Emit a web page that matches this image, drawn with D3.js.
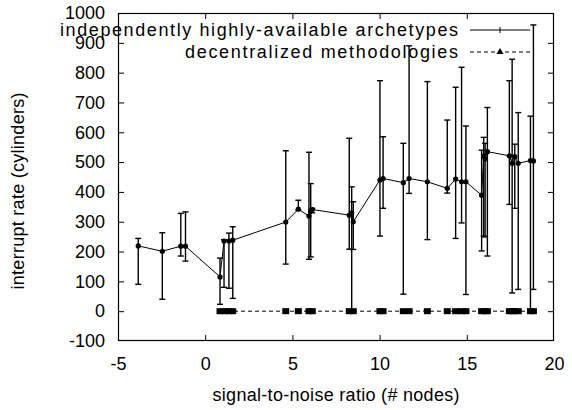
<!DOCTYPE html>
<html>
<head>
<meta charset="utf-8">
<script src="https://cdn.jsdelivr.net/npm/d3@7"></script>
<style>
  html, body { margin: 0; padding: 0; background: #fff; }
  text { font-family: "Liberation Sans", Arial, Helvetica, sans-serif; fill: #000; }
</style>
</head>
<body>
<svg id="chart" width="572" height="410"></svg>
<script>
// ---- data ----
const seriesNames = ["independently highly-available archetypes", "decentralized methodologies"];
const xTicks = [-5, 0, 5, 10, 15, 20];
const yTicks = [-100, 0, 100, 200, 300, 400, 500, 600, 700, 800, 900, 1000];
const xLabel = "signal-to-noise ratio (# nodes)";
const yLabel = "interrupt rate (cylinders)";

// series 1: x, value, low, high
const s1x   = [-3.84, -2.46, -1.40, -1.13, 0.85, 1.08, 1.36, 1.58, 4.62, 5.34, 5.95, 6.05, 6.14, 8.26, 8.40, 8.49, 10.02, 10.20, 11.36, 11.69, 12.74, 13.88, 14.36, 14.70, 14.95, 15.85, 15.97, 16.05, 16.18, 17.44, 17.60, 17.75, 17.95, 18.65, 18.82];
const s1y   = [219, 201, 218, 218, 115, 235, 235, 238, 299, 342, 319, 335, 341, 322, 330, 300, 440, 445, 431, 445, 434, 412, 443, 434, 434, 389, 520, 510, 535, 521, 496, 518, 496, 505, 504];
const s1lo  = [90, 40, 185, 168, 23, 80, 77, 43, 158, 339, 174, 182, 330, 208, 0, 207, 252, 345, 57, 395, 240, 396, 244, 296, 56, 202, 252, 249, 185, 358, 61, 345, 73, 5, 73];
const s1hi  = [244, 263, 328, 333, 178, 240, 262, 283, 538, 372, 533, 428, 345, 580, 417, 367, 773, 585, 563, 890, 770, 641, 751, 818, 621, 540, 583, 563, 683, 773, 845, 560, 666, 654, 960];

// series 2: x, value (all near zero)
const s2x = [0.85, 1.08, 1.36, 1.58, 4.62, 5.34, 5.95, 6.14, 8.26, 8.49, 10.02, 10.20, 11.36, 11.69, 12.74, 13.88, 14.36, 14.70, 14.95, 15.85, 16.05, 16.18, 17.44, 17.60, 17.75, 17.95, 18.65, 18.82];
const s2y = s2x.map(() => 0);

// ---- layout ----
const svg = d3.select("#chart");
const L = 118, R = 554, T = 13, B = 341;
const x = d3.scaleLinear().domain([-5, 20]).range([L, R]);
const y = d3.scaleLinear().domain([-100, 1000]).range([B, T]);
const FS = 18;

// frame
svg.append("rect").attr("x", L + 0.5).attr("y", T + 0.5)
  .attr("width", R - L - 1).attr("height", B - T - 1)
  .attr("fill", "none").attr("stroke", "#000").attr("stroke-width", 1.2);

// axes with inward ticks, labels
const xAxis = d3.axisBottom(x).tickValues(xTicks).tickSize(-6).tickPadding(16).tickFormat(d3.format("d"));
const gx = svg.append("g").attr("transform", `translate(0,${B})`).call(xAxis);
const xAxisTop = d3.axisTop(x).tickValues(xTicks).tickSize(-6).tickFormat("");
const gxt = svg.append("g").attr("transform", `translate(0,${T})`).call(xAxisTop);
const yAxis = d3.axisLeft(y).tickValues(yTicks).tickSize(-6).tickPadding(13);
const gy = svg.append("g").attr("transform", `translate(${L},0)`).call(yAxis);
const yAxisR = d3.axisRight(y).tickValues(yTicks).tickSize(-6).tickFormat("");
const gyr = svg.append("g").attr("transform", `translate(${R},0)`).call(yAxisR);
[gx, gxt, gy, gyr].forEach(g => {
  g.select(".domain").remove();
  g.selectAll("line").attr("stroke", "#000");
  g.selectAll("text").attr("font-size", FS).attr("font-family", "Liberation Sans, Arial, sans-serif").attr("fill", "#000");
});
// hide end ticks that coincide with frame edges
gx.selectAll(".tick line").filter(d => d === -5 || d === 20).remove();
gxt.selectAll(".tick line").filter(d => d === -5 || d === 20).remove();
gy.selectAll(".tick line").filter(d => d === -100 || d === 1000).remove();
gyr.selectAll(".tick line").filter(d => d === -100 || d === 1000).remove();
gy.selectAll("text").text(d => (d < 0 ? "-" + Math.abs(d) : String(d)));
gx.selectAll("text").text(d => (d < 0 ? "-" + Math.abs(d) : String(d)));

// axis titles
svg.append("text").attr("x", (L + R) / 2).attr("y", 401).attr("text-anchor", "middle")
  .attr("font-size", FS).attr("textLength", 247).attr("lengthAdjust", "spacing").text(xLabel);
svg.append("text").attr("transform", `translate(24,191) rotate(-90)`).attr("text-anchor", "middle")
  .attr("font-size", FS).attr("textLength", 197).attr("lengthAdjust", "spacing").text(yLabel);

// series data
const d1 = s1x.map((v, i) => ({ x: v, y: s1y[i], lo: s1lo[i], hi: s1hi[i] }));
const d2 = s2x.map((v, i) => ({ x: v, y: s2y[i] }));
const plot = svg.append("g");
const cap = 3;

// error bars series 1
const eb = plot.append("g").attr("stroke", "#000").attr("stroke-width", 1.4);
d1.forEach(d => {
  eb.append("line").attr("x1", x(d.x)).attr("x2", x(d.x)).attr("y1", y(d.lo)).attr("y2", y(d.hi));
  eb.append("line").attr("x1", x(d.x) - cap).attr("x2", x(d.x) + cap).attr("y1", y(d.lo)).attr("y2", y(d.lo));
  eb.append("line").attr("x1", x(d.x) - cap).attr("x2", x(d.x) + cap).attr("y1", y(d.hi)).attr("y2", y(d.hi));
});

// line series 1
const line = d3.line().x(d => x(d.x)).y(d => y(d.y));
plot.append("path").datum(d1).attr("d", line).attr("fill", "none").attr("stroke", "#000").attr("stroke-width", 1);
plot.append("g").selectAll("circle").data(d1).join("circle")
  .attr("cx", d => x(d.x)).attr("cy", d => y(d.y)).attr("r", 2.6).attr("fill", "#000");

// series 2
plot.append("path").datum(d2).attr("d", line).attr("fill", "none").attr("stroke", "#000")
  .attr("stroke-width", 1).attr("stroke-dasharray", "4,3");
plot.append("g").selectAll("rect").data(d2).join("rect")
  .attr("x", d => x(d.x) - 3.5).attr("y", d => y(d.y) - 3).attr("width", 7).attr("height", 6).attr("fill", "#000");

// legend
const legX2 = 458, sx1 = 470, sx2 = 530;
const rows = [30, 52];
svg.append("text").attr("x", legX2).attr("y", rows[0] + 6).attr("text-anchor", "end").attr("font-size", FS)
  .attr("textLength", 398).attr("lengthAdjust", "spacing").text(seriesNames[0]);
svg.append("text").attr("x", legX2).attr("y", rows[1] + 6).attr("text-anchor", "end").attr("font-size", FS)
  .attr("textLength", 273).attr("lengthAdjust", "spacing").text(seriesNames[1]);
svg.append("line").attr("x1", sx1).attr("x2", sx2).attr("y1", rows[0]).attr("y2", rows[0]).attr("stroke", "#000");
svg.append("line").attr("x1", 500).attr("x2", 500).attr("y1", rows[0] - 3).attr("y2", rows[0] + 3).attr("stroke", "#000");
svg.append("line").attr("x1", sx1).attr("x2", sx2).attr("y1", rows[1]).attr("y2", rows[1]).attr("stroke", "#000").attr("stroke-dasharray", "4,3");
svg.append("path").attr("d", d3.symbol(d3.symbolTriangle, 22)()).attr("transform", `translate(500,${rows[1]})`).attr("fill", "#000");
</script>
</body>
</html>
